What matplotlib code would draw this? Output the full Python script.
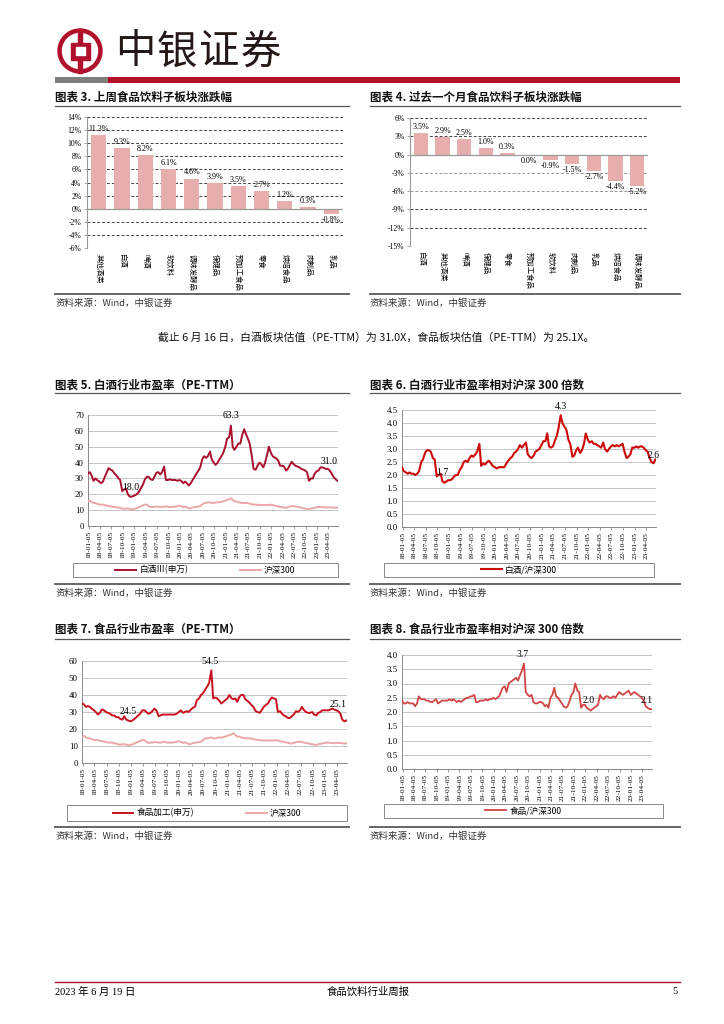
import matplotlib
matplotlib.use('Agg')
import matplotlib.pyplot as plt
import pandas as pd
import numpy as np
from matplotlib.patches import Circle, Rectangle

plt.rcParams['font.family'] = ['Noto Sans CJK SC', 'DejaVu Sans']
SERIF = ['Liberation Serif', 'Noto Sans CJK SC']
CJK = ['Noto Sans CJK SC', 'DejaVu Sans']

# ---------------- data ----------------
week_cats = ["其他酒类", "白酒", "啤酒", "软饮料", "调味发酵品", "保健品", "预加工食品", "零食", "烘焙食品", "肉制品", "乳品"]
week_vals = [11.3, 9.3, 8.2, 6.1, 4.6, 3.9, 3.5, 2.7, 1.2, 0.3, -0.8]

month_cats = ["白酒", "其他酒类", "啤酒", "保健品", "零食", "预加工食品", "软饮料", "肉制品", "乳品", "烘焙食品", "调味发酵品"]
month_vals = [3.5, 2.9, 2.5, 1.0, 0.3, 0.0, -0.9, -1.5, -2.7, -4.4, -5.2]

date_ticks = ['18-01-05', '18-04-05', '18-07-05', '18-10-05', '19-01-05', '19-04-05', '19-07-05', '19-10-05',
              '20-01-05', '20-04-05', '20-07-05', '20-10-05', '21-01-05', '21-04-05', '21-07-05', '21-10-05',
              '22-01-05', '22-04-05', '22-07-05', '22-10-05', '23-01-05', '23-04-05']

# semi-monthly observation dates (1st and 15th) 2018-01 .. 2023-06
dates = pd.date_range('2018-01-01', '2023-06-15', freq='SMS')

baijiu_pe = [33, 34, 31.5, 28.5, 30, 29, 28, 27, 28, 31, 34, 36.5, 35.5, 35, 33, 32, 30, 29, 22, 23, 23.5, 20, 18.5, 18.5,
             19, 19.5, 20.5, 22, 24, 26, 29.5, 31, 31, 29.5, 29, 31, 33.5, 34, 32.5, 34, 37.5, 29, 29, 29.5, 29, 29, 29, 28.5,
             29, 28.5, 27, 28, 27, 25.5, 27, 29, 31, 33, 35, 37, 42, 44, 43, 44, 47, 42, 40, 38.5, 40, 42, 44, 46,
             50, 55, 56, 63.3, 50, 48, 50, 52, 52, 57, 61, 58, 55, 52, 44, 36, 35.5, 38, 40, 39, 37, 40, 45, 50,
             46, 44, 43, 42.5, 41, 38, 38, 37.5, 35, 36, 38.5, 40.5, 39, 38, 37.5, 37, 36, 35.5, 35, 34, 28.5, 30, 30, 33,
             34.5, 35, 37, 37, 36.5, 36, 36, 35, 33, 31, 29.5, 28.5]

hs300_pe = [15.5, 16, 15, 14.5, 14.5, 14, 13.5, 13.5, 13.5, 13, 13, 12.5, 12.5, 12, 12, 12, 11.5, 11.5, 11, 10.8, 11, 11, 10.8, 10.5,
            10.5, 11, 11.5, 12, 12.5, 13, 13.5, 13.5, 12.5, 11.8, 12, 12, 12.3, 12.2, 12, 12, 12.2, 12.5, 12, 12, 12, 12, 12.3, 12.5,
            12.8, 12.5, 11.8, 12.2, 11.8, 11, 11.3, 11.7, 12, 12, 12.3, 12.5, 13.5, 14.5, 14.5, 14.8, 15, 14.5, 14.5, 14.8, 15, 15, 15.3, 15.5,
            16, 16.5, 16.8, 17.5, 16.5, 15.5, 15.5, 15, 14.8, 14.5, 14.5, 14.5, 14.5, 14, 13.8, 13.5, 13.5, 13.3, 13.3, 13.2, 13.2, 13.3, 13.2, 13.3,
            13.5, 13.2, 12.8, 12.5, 12.5, 12, 12, 11.5, 11.5, 11.8, 12.3, 12.5, 12.5, 12.3, 12, 11.8, 11.5, 11.3, 11, 10.8, 10.6, 11, 11.3, 11.5,
            11.8, 12, 12, 11.8, 11.8, 11.6, 11.8, 11.8, 11.8, 11.6, 11.5, 11.6]

baijiu_rel = [2.3, 2.15, 2.1, 2.05, 2.1, 2.05, 2.05, 2.0, 2.05, 2.15, 2.5, 2.6, 2.85, 2.95, 2.95, 2.9, 2.65, 2.6, 1.95, 2.0, 2.05, 1.75, 1.7, 1.75,
              1.8, 1.8, 1.85, 1.95, 2.0, 2.0, 2.2, 2.3, 2.5, 2.55, 2.5, 2.65, 2.75, 2.7, 2.8, 2.9, 3.2, 2.35, 2.45, 2.4, 2.5, 2.55, 2.45, 2.35,
              2.3, 2.25, 2.3, 2.3, 2.3, 2.3, 2.45, 2.55, 2.65, 2.7, 2.85, 2.9, 3.0, 3.15, 3.05, 3.15, 3.25, 2.8, 2.7, 2.65, 2.75, 2.9, 2.95, 3.0,
              3.15, 3.3, 3.3, 3.6, 3.1, 3.05, 3.1, 3.3, 3.5, 3.8, 4.3, 4.0, 3.85, 3.75, 3.35, 3.2, 2.7, 2.75, 2.95, 3.05, 2.85, 2.95, 3.2, 3.6,
              3.35, 3.25, 3.3, 3.2, 3.2, 3.15, 3.1, 3.05, 3.25, 3.0, 2.9, 3.0, 3.1, 3.15, 3.1, 3.15, 3.1, 3.15, 3.2, 2.9, 2.65, 2.7, 2.8, 3.05,
              3.05, 3.1, 3.05, 3.1, 3.1, 3.05, 2.95, 2.9, 2.65, 2.5, 2.45, 2.6]

food_pe = [35, 34.5, 33, 33.5, 33, 32, 31, 30, 28.5, 29.5, 31.5, 31, 30, 29.5, 29, 28, 28, 27, 27, 26, 25.5, 27.5, 25.5, 25,
           24.5, 25, 26, 27, 28, 29, 31, 31, 30, 29, 29.5, 30.5, 32, 31, 27.5, 28, 28.5, 28.5, 28.5, 28.5, 28.5, 28.5, 28.5, 29,
           30, 31, 29.5, 30, 30.5, 30, 31.5, 32.5, 33, 37, 38, 40, 41, 43, 45, 47, 54.5, 38, 38.5, 38, 36.5, 35, 36, 37,
           38, 40, 38, 37.5, 38, 36, 39, 40, 40, 37.5, 36.5, 35.5, 34, 33, 30.5, 30, 29.5, 31, 33, 34, 35, 37, 38.5, 38,
           37.5, 30, 30.5, 29, 28, 27.5, 26.5, 26.5, 27.5, 28.5, 30.5, 30, 31, 33, 31, 30, 29.5, 29.5, 30, 28.5, 28, 29.5, 30, 31,
           31, 31, 31, 31.5, 32, 31.5, 31, 30.5, 29, 25.5, 24.5, 25]

food_rel = [2.4, 2.3, 2.3, 2.35, 2.3, 2.3, 2.3, 2.2, 2.3, 2.55, 2.45, 2.45, 2.45, 2.4, 2.4, 2.35, 2.35, 2.4, 2.45, 2.3, 2.35, 2.4, 2.4, 2.4,
            2.4, 2.45, 2.4, 2.45, 2.4, 2.35, 2.4, 2.35, 2.4, 2.45, 2.5, 2.5, 2.55, 2.55, 2.6, 2.35, 2.35, 2.4, 2.4, 2.4, 2.45, 2.4, 2.45, 2.45,
            2.5, 2.45, 2.5, 2.55, 2.7, 2.85, 2.9, 2.7, 3.0, 3.05, 3.1, 3.15, 3.2, 3.1, 3.3, 3.45, 3.7, 2.7, 2.6, 2.55, 2.6, 2.35, 2.3, 2.3,
            2.35, 2.35, 2.3, 2.2, 2.25, 2.15, 2.5, 2.6, 2.85, 2.55, 2.5, 2.4, 2.3, 2.2, 2.15, 2.2, 2.4, 2.6, 2.7, 3.0, 2.75, 2.7, 2.15, 2.25,
            2.25, 2.15, 2.1, 2.05, 2.1, 2.15, 2.2, 2.25, 2.6, 2.5, 2.45, 2.55, 2.55, 2.5, 2.5, 2.55, 2.5, 2.6, 2.7, 2.65, 2.6, 2.65, 2.7, 2.75,
            2.6, 2.65, 2.7, 2.65, 2.6, 2.55, 2.5, 2.4, 2.2, 2.15, 2.1, 2.1]

# ---------------- layout helpers ----------------
W, H = 724, 1024
fig = plt.figure(figsize=(7.24, 10.24), dpi=100)
fig.patch.set_facecolor('white')

def rect(x0, y0, x1, y1):
    return [x0 / W, 1 - y1 / H, (x1 - x0) / W, (y1 - y0) / H]

RED = '#B0102B'
BAR = '#E8ADAD'

bg = fig.add_axes([0, 0, 1, 1])
bg.set_xlim(0, W)
bg.set_ylim(H, 0)
bg.axis('off')

# header logo
cx, cy = 80, 51
bg.add_patch(Circle((cx, cy), 22, color=RED))
bg.add_patch(Circle((cx, cy), 17.5, color='white'))
bg.add_patch(Rectangle((cx - 2.2, cy - 22), 4.4, 44, color=RED))
bg.add_patch(Rectangle((cx - 9.5, cy - 8.5), 19, 17, color=RED))
bg.add_patch(Rectangle((cx - 4.5, cy - 4), 9, 8, color='white'))
for i, ch in enumerate("中银证券"):
    bg.text(115 + i * 42, 52, ch, fontsize=29, family=CJK, color='#231815', va='center', ha='left')
bg.add_patch(Rectangle((55, 77), 53, 6, color='#7F7F7F', lw=0))
bg.add_patch(Rectangle((108, 77), 572, 6, color=RED, lw=0))

def section(x0, x1, ytitle, yline, ysrc_line, title):
    bg.text(x0, ytitle, title, fontsize=8.3, fontweight='bold', family=CJK, va='center', ha='left', color='#111')
    bg.plot([x0, x1], [yline, yline], color='#555', lw=0.9)
    bg.plot([x0, x1], [ysrc_line, ysrc_line], color='#666', lw=1.4)
    bg.text(x0, ysrc_line + 9, "资料来源：Wind，中银证券", fontsize=6.8, family=CJK, va='center', ha='left',
            color='#333', style='italic')

section(55, 349, 97, 106, 294, "图表 3. 上周食品饮料子板块涨跌幅")
section(370, 680, 97, 106, 294, "图表 4. 过去一个月食品饮料子板块涨跌幅")
section(55, 349, 385, 393, 584, "图表 5. 白酒行业市盈率（PE-TTM）")
section(370, 680, 385, 393, 584, "图表 6. 白酒行业市盈率相对沪深 300 倍数")
section(55, 349, 629, 639, 827, "图表 7. 食品行业市盈率（PE-TTM）")
section(370, 680, 629, 639, 827, "图表 8. 食品行业市盈率相对沪深 300 倍数")

bg.text(158, 337, "截止 6 月 16 日，白酒板块估值（PE-TTM）为 31.0X，食品板块估值（PE-TTM）为 25.1X。",
        fontsize=7.8, family=CJK, va='center', ha='left', color='#111')

# footer
bg.plot([55, 680], [982, 982], color=RED, lw=1.0)
bg.text(55, 992, "2023 年 6 月 19 日", fontsize=7.5, family=SERIF, va='center', ha='left')
bg.text(368, 992, "食品饮料行业周报", fontsize=7.5, family=CJK, va='center', ha='center')
bg.text(678, 992, "5", fontsize=7.5, family=SERIF, va='center', ha='right')


# ---------------- bar charts ----------------
def bar_chart(box, cats, vals, ylo, yhi, step, dark_levels):
    ax = fig.add_axes(rect(*box))
    x = np.arange(len(cats))
    ax.bar(x, vals, width=0.66, color=BAR, zorder=2)
    ax.set_xlim(-0.5, len(cats) - 0.5)
    ax.set_ylim(ylo, yhi)
    yt = list(range(ylo, yhi + 1, step))
    ax.set_yticks(yt)
    ax.set_yticklabels([f'{t}%' for t in yt], fontsize=5.5, family=SERIF)
    for t in yt:
        if t == 0:
            continue
        col = '#444' if t in dark_levels else '#999'
        ax.axhline(t, color=col, lw=0.7, ls=(0, (3, 2)), zorder=1)
    ax.axhline(0, color='#999', lw=0.9, zorder=3)
    ax.set_xticks(x)
    ax.set_xticklabels(cats, rotation=-90, fontsize=5.3, family=CJK)
    ax.tick_params(axis='x', length=0, pad=4)
    ax.tick_params(axis='y', length=2, width=0.6, color='#999', pad=2)
    for s in ['top', 'right', 'bottom']:
        ax.spines[s].set_visible(False)
    ax.spines['left'].set_color('#999')
    ax.spines['left'].set_linewidth(0.8)
    for xi, v in zip(x, vals):
        if v > 0:
            ax.annotate(f'{v:.1f}%', (xi, v), xytext=(0, 1.5), textcoords='offset points',
                        ha='center', va='bottom', fontsize=5.8, family=SERIF, zorder=4)
        else:
            ax.annotate(f'{v:.1f}%', (xi, v), xytext=(0, -1.5), textcoords='offset points',
                        ha='center', va='top', fontsize=5.8, family=SERIF, zorder=4)
    return ax

bar_chart((87, 117, 343, 248), week_cats, week_vals, -6, 14, 2, [14, 12, 10, 8, 6, 4, 2, -2, -4, -6])
bar_chart((410, 118, 648, 246), month_cats, month_vals, -15, 6, 3, [6, 3, -9, -12])


# ---------------- line charts ----------------
tick_pos = [pd.Timestamp('20' + t) for t in date_ticks]

def ts_chart(box, series, ylo, yhi, yt, fmt, legbox, annots):
    ax = fig.add_axes(rect(*box))
    for vals, color, lw, label in series:
        ax.plot(dates, vals, color=color, lw=lw, label=label, zorder=3)
    ax.set_xlim(pd.Timestamp('2018-01-01'), pd.Timestamp('2023-06-20'))
    ax.set_ylim(ylo, yhi)
    ax.set_yticks(yt)
    ax.set_yticklabels([fmt.format(t) for t in yt], fontsize=6.3, family=SERIF)
    ax.grid(axis='y', color='#BBBBBB', lw=0.6, zorder=0)
    ax.set_xticks(tick_pos)
    ax.set_xticklabels(date_ticks, rotation=90, fontsize=5.3, family=SERIF)
    ax.tick_params(axis='x', length=2, width=0.6, color='#888', pad=1.5)
    ax.tick_params(axis='y', length=0, pad=3)
    for s in ['top', 'right']:
        ax.spines[s].set_visible(False)
    for s in ['left', 'bottom']:
        ax.spines[s].set_color('#888')
        ax.spines[s].set_linewidth(0.7)
    for txt, d, yv in annots:
        ax.text(pd.Timestamp(d), yv, txt, fontsize=7, family=SERIF, ha='center', va='center',
                clip_on=False, zorder=5)
    bg.add_patch(Rectangle((legbox[0], legbox[1]), legbox[2] - legbox[0], legbox[3] - legbox[1],
                           fill=False, edgecolor='#888', lw=0.7))
    ax.legend(loc='center', bbox_to_anchor=rect(*legbox), bbox_transform=fig.transFigure,
              ncol=len(series), frameon=False, prop={'family': CJK, 'size': 6.2},
              handlelength=2.4, columnspacing=6.0, handletextpad=0.4, borderpad=0.1)
    return ax

ts_chart((88, 415, 338, 526),
         [(baijiu_pe, '#A8102E', 1.4, '白酒Ⅲ(申万)'), (hs300_pe, '#EBA8A8', 1.4, '沪深300')],
         0, 70, list(range(0, 71, 10)), '{:d}', (73, 563, 338, 577),
         [('63.3', '2021-02-15', 69.6), ('18.0', '2018-12-10', 24.3), ('31.0', '2023-04-10', 40.9)])

ts_chart((402, 410, 656, 527),
         [(baijiu_rel, '#CC0A0A', 1.5, '白酒/沪深300')],
         0, 4.5, [0, 0.5, 1.0, 1.5, 2.0, 2.5, 3.0, 3.5, 4.0, 4.5], '{:.1f}', (384, 563, 654, 577),
         [('4.3', '2021-06-01', 4.65), ('1.7', '2018-11-10', 2.08), ('2.6', '2023-06-05', 2.76)])

ts_chart((82, 661, 347, 763),
         [(food_pe, '#C8101E', 1.4, '食品加工(申万)'), (hs300_pe, '#EBA8A8', 1.4, '沪深300')],
         0, 60, list(range(0, 61, 10)), '{:d}', (67, 805, 347, 821),
         [('54.5', '2020-08-25', 60), ('24.5', '2018-12-15', 30), ('25.1', '2023-04-15', 34.3)])

ts_chart((402, 655, 652, 769),
         [(food_rel, '#D04545', 1.3, '食品/沪深300')],
         0, 4.0, [0, 0.5, 1.0, 1.5, 2.0, 2.5, 3.0, 3.5, 4.0], '{:.1f}', (384, 804, 663, 818),
         [('3.7', '2020-08-20', 4.02), ('2.0', '2022-02-01', 2.39), ('2.1', '2023-05-10', 2.39)])

fig.savefig('out.png', dpi=100, facecolor='white')
